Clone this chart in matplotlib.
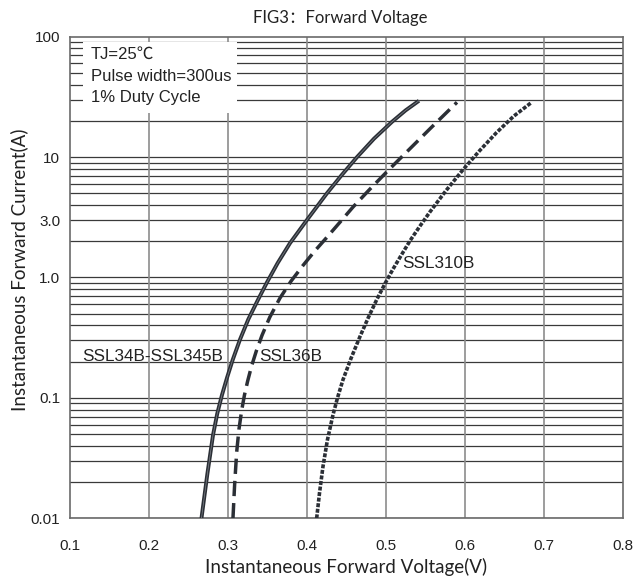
import matplotlib
matplotlib.use("Agg")
import matplotlib.pyplot as plt
from matplotlib.patches import Rectangle

# ---- data ----
v_ssl34 = [0.2665, 0.2740, 0.2811, 0.2865, 0.2925, 0.2990, 0.3060, 0.3153, 0.3260, 0.3381, 0.3495,
           0.3630, 0.3786, 0.4001, 0.4255, 0.4440, 0.4635, 0.4850, 0.5078, 0.5250, 0.5420]
i_ssl34 = [0.0100, 0.02344, 0.04898, 0.07413, 0.1059, 0.1479, 0.2065, 0.3055, 0.4519, 0.6531, 0.912,
           1.318, 1.928, 3.006, 5.012, 7.079, 10.0, 14.22, 19.63, 24.43, 29.38]

v_ssl36 = [0.3064, 0.3085, 0.3111, 0.3140, 0.3175, 0.3210, 0.3250, 0.3300, 0.3360, 0.3432, 0.3530,
           0.3660, 0.3800, 0.3951, 0.4100, 0.4255, 0.4420, 0.4584, 0.4800, 0.5053, 0.5306, 0.5559, 0.5901]
i_ssl36 = [0.0100, 0.01905, 0.03548, 0.05495, 0.07943, 0.1059, 0.1380, 0.1841, 0.2455, 0.3311, 0.4677,
           0.6761, 0.9333, 1.259, 1.660, 2.163, 2.884, 3.846, 5.433, 8.035, 11.75, 17.18, 28.51]

v_ssl310 = [0.4124, 0.4160, 0.4204, 0.4260, 0.4331, 0.4390, 0.4457, 0.4560, 0.4673, 0.4780, 0.4884, 0.4990,
            0.5091, 0.5200, 0.5306, 0.5430, 0.5559, 0.5760, 0.5977, 0.6190, 0.6404, 0.6620, 0.6847]
i_ssl310 = [0.0100, 0.01622, 0.02692, 0.04467, 0.07244, 0.1012, 0.1413, 0.2138, 0.3236, 0.4677, 0.6531, 0.8913,
            1.175, 1.549, 2.018, 2.661, 3.508, 5.248, 7.852, 11.35, 16.03, 21.88, 28.51]

x_ticks = [0.1, 0.2, 0.3, 0.4, 0.5, 0.6, 0.7, 0.8]
x_ticklabels = ["0.1", "0.2", "0.3", "0.4", "0.5", "0.6", "0.7", "0.8"]
y_ticks = [0.01, 0.1, 1.0, 3.0, 10, 100]
y_ticklabels = ["0.01", "0.1", "1.0", "3.0", "10", "100"]
h_grid = [m * 10.0 ** e for e in (-2, -1, 0, 1) for m in range(1, 10)]

title = "FIG3：Forward Voltage"
xlabel = "Instantaneous Forward Voltage(V)"
ylabel = "Instantaneous Forward Current(A)"
cond_lines = ["TJ=25℃", "Pulse width=300us", "1% Duty Cycle"]
curve_labels = ["SSL34B-SSL345B", "SSL36B", "SSL310B"]

# ---- figure ----
fig = plt.figure(figsize=(6.37, 5.81), dpi=100)
ax = fig.add_axes([70 / 637, 1 - 518.3 / 581, 552.7 / 637, 481.6 / 581])
ax.set_xlim(0.1, 0.8)
ax.set_yscale("log")
ax.set_ylim(0.01, 100)

ax.minorticks_off()
ax.set_xticks(x_ticks)
ax.set_xticklabels(x_ticklabels)
ax.set_yticks(y_ticks)
ax.set_yticklabels(y_ticklabels)
ax.tick_params(length=0, labelsize=11, colors="#222222")
ax.tick_params(axis="x", pad=15)
ax.tick_params(axis="y", pad=7)
for lab in ax.get_xticklabels() + ax.get_yticklabels():
    lab.set_fontfamily("Liberation Sans")

for s in ax.spines.values():
    s.set_color("#6a6a6a")
    s.set_linewidth(1.2)

# grid
for yv in h_grid:
    ax.axhline(yv, color="#3a3a3a", lw=0.9, zorder=1)
for xv in x_ticks[1:-1]:
    ax.axvline(xv, color="#8c8c8c", lw=1.2, zorder=1)

# condition box
ax.add_patch(Rectangle((0.0235, 0.842), 0.2785, 0.147, transform=ax.transAxes,
                       facecolor="white", edgecolor="none", zorder=2))
for txt, yy in zip(cond_lines, [0.964, 0.917, 0.873]):
    ax.text(0.0375, yy, txt, transform=ax.transAxes, ha="left", va="center",
            fontsize=12, color="#222222", family=["Liberation Sans", "Noto Sans CJK SC"], zorder=3)

dark = "#2b2f36"
# solid double line
ax.plot(v_ssl34, i_ssl34, color=dark, lw=2.8, zorder=4, solid_capstyle="butt", solid_joinstyle="round")
ax.plot(v_ssl34, i_ssl34, color="#80858c", lw=0.5, zorder=5)
# dashed
ax.plot(v_ssl36, i_ssl36, color=dark, lw=2.5, zorder=4, dashes=(4.4, 2.0))
# dotted
ax.plot(v_ssl310, i_ssl310, color=dark, lw=2.6, zorder=4, dashes=(1.1, 0.45))

# curve labels
lab_kw = dict(fontsize=12.3, color="#222222", family="Liberation Sans", va="center", ha="left", zorder=6)
ax.text(0.1149, 0.219, curve_labels[0], **lab_kw)
ax.text(0.339, 0.219, curve_labels[1], **lab_kw)
ax.text(0.5210, 1.31, curve_labels[2], **lab_kw)

fig.text(340 / 637, 1 - 18 / 581, title, ha="center", va="center", fontsize=12,
         family=["Lato", "Noto Sans CJK SC"], color="#222222")
fig.text(346 / 637, 1 - 567 / 581, xlabel, ha="center", va="center", fontsize=13.5,
         family="Lato", color="#222222")
fig.text(19 / 637, 1 - 270 / 581, ylabel, ha="center", va="center", fontsize=13.5,
         family="Lato", color="#222222", rotation=90)

fig.savefig("out.png", dpi=100)
